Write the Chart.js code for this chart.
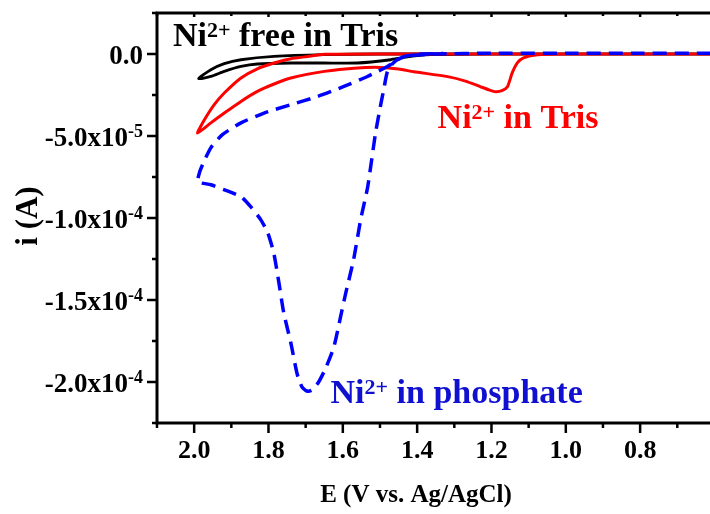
<!DOCTYPE html>
<html>
<head>
<meta charset="utf-8">
<script src="https://cdn.jsdelivr.net/npm/chart.js@4.4.1/dist/chart.umd.min.js"></script>
<style>
  html, body { margin: 0; padding: 0; background: #fff; }
  canvas { display: block; }
</style>
</head>
<body>
<canvas id="cv" width="710" height="514"></canvas>
<script>
// potentials (V vs. Ag/AgCl) and currents (units of 1e-5 A)
const phosE = [0.61, 0.8, 1.0, 1.2, 1.35, 1.42, 1.45, 1.466, 1.48, 1.49, 1.498, 1.512, 1.533, 1.552, 1.571,
  1.592, 1.606, 1.624, 1.645, 1.665, 1.684, 1.697, 1.71, 1.723, 1.74, 1.759, 1.772, 1.786, 1.802, 1.821,
  1.848, 1.874, 1.92, 1.955, 1.99, 1.985, 1.974, 1.955, 1.924, 1.874, 1.812, 1.74, 1.668, 1.597, 1.534,
  1.48, 1.435, 1.39, 1.33];
const phosI = [0.05, 0.05, 0.05, 0.05, 0.0, -0.1, -0.3, -0.59, -1.06, -2.18, -3.09, -4.82, -8.09, -10.1, -12.54,
  -14.56, -16.02, -17.85, -19.1, -20.0, -20.5, -20.55, -20.3, -19.5, -17.6, -15.78, -13.94, -12.12, -10.9, -10.1,
  -9.31, -8.7, -8.27, -7.97, -7.79, -7.18, -6.57, -5.71, -4.92, -4.2, -3.6, -3.09, -2.59, -1.98, -1.37,
  -0.76, -0.15, 0.0, 0.03];

const trisE = [0.61, 0.8, 1.0, 1.076, 1.114, 1.13, 1.144, 1.157, 1.172, 1.189, 1.205, 1.229, 1.27, 1.318, 1.409,
  1.45, 1.498, 1.561, 1.65, 1.74, 1.785, 1.83, 1.874, 1.919, 1.955, 1.991, 1.972, 1.946, 1.919, 1.874,
  1.83, 1.785, 1.74, 1.695, 1.65, 1.5, 1.3, 1.0, 0.8, 0.61];
const trisI = [0, 0, 0, -0.04, -0.23, -0.53, -1.14, -2.0, -2.24, -2.3, -2.2, -2.0, -1.65, -1.38, -1.08,
  -0.92, -0.82, -0.85, -1.06, -1.46, -1.83, -2.28, -2.89, -3.6, -4.2, -4.82, -4.0, -3.09, -2.38, -1.46,
  -0.9, -0.55, -0.29, -0.15, -0.02, 0, 0, 0, 0, 0];

const freeE = [0.61, 1.0, 1.2, 1.364, 1.435, 1.471, 1.561, 1.65, 1.74, 1.83, 1.874, 1.919, 1.955, 1.988,
  1.955, 1.919, 1.874, 1.785, 1.65, 1.5, 1.2, 0.61];
const freeI = [0, 0, 0, -0.04, -0.2, -0.35, -0.55, -0.55, -0.55, -0.61, -0.76, -1.06, -1.37, -1.5,
  -0.96, -0.59, -0.35, -0.15, -0.04, 0, 0, 0];

const xTickValues = [2.0, 1.8, 1.6, 1.4, 1.2, 1.0, 0.8];
const xTickLabels = ['2.0', '1.8', '1.6', '1.4', '1.2', '1.0', '0.8'];
const xMinorValues = [2.1, 1.9, 1.7, 1.5, 1.3, 1.1, 0.9, 0.7];
const yTickValues = [0, -5e-5, -1e-4, -1.5e-4, -2e-4];
const yTickMantissa = ['0.0', '-5.0x10', '-1.0x10', '-1.5x10', '-2.0x10'];
const yTickExp = ['', '-5', '-4', '-4', '-4'];
const yMinorValues = [2.5e-5, -2.5e-5, -7.5e-5, -1.25e-4, -1.75e-4, -2.25e-4];

const seriesNames = ['Ni2+ in phosphate', 'Ni2+ in Tris', 'Ni2+ free in Tris'];

const SERIF = '"Liberation Serif", "Times New Roman", serif';

function toPoints(es, is) {
  return es.map((e, k) => ({ x: e, y: is[k] * 1e-5 }));
}

// labels: [prefix, sup, rest, E, i, colour]
const curveLabels = [
  ['Ni', '2+', ' free in Tris', 2.057, 4.6e-6, '#000000'],
  ['Ni', '2+', ' in Tris', 1.345, -4.49e-5, '#ff0000'],
  ['Ni', '2+', ' in phosphate', 1.633, -2.126e-4, '#1010d0']
];

const framePlugin = {
  id: 'frame',
  afterDraw(chart) {
    const ctx = chart.ctx;
    const a = chart.chartArea;
    const xs = chart.scales.x;
    const ys = chart.scales.y;
    ctx.save();
    ctx.strokeStyle = '#000';
    ctx.fillStyle = '#000';
    ctx.lineCap = 'butt';

    // axes lines
    ctx.lineWidth = 3;
    ctx.beginPath();
    ctx.moveTo(a.left, a.top);
    ctx.lineTo(a.right, a.top);
    ctx.moveTo(a.left, a.top - 1.5);
    ctx.lineTo(a.left, a.bottom + 1.5);
    ctx.moveTo(a.left - 1.5, a.bottom);
    ctx.lineTo(a.right, a.bottom);
    ctx.stroke();

    // x ticks
    ctx.lineWidth = 2.5;
    ctx.beginPath();
    xTickValues.forEach(v => {
      const px = xs.getPixelForValue(v);
      ctx.moveTo(px, a.bottom); ctx.lineTo(px, a.bottom + 10);
      ctx.moveTo(px, a.top); ctx.lineTo(px, a.top + 4);
    });
    xMinorValues.forEach(v => {
      const px = xs.getPixelForValue(v);
      ctx.moveTo(px, a.bottom); ctx.lineTo(px, a.bottom + 5);
      ctx.moveTo(px, a.top); ctx.lineTo(px, a.top + 3);
    });
    // y ticks
    yTickValues.forEach(v => {
      const py = ys.getPixelForValue(v);
      ctx.moveTo(a.left, py); ctx.lineTo(a.left - 10, py);
    });
    yMinorValues.forEach(v => {
      const py = ys.getPixelForValue(v);
      ctx.moveTo(a.left, py); ctx.lineTo(a.left - 5, py);
    });
    ctx.stroke();

    // x tick labels
    ctx.font = 'bold 26px ' + SERIF;
    ctx.textAlign = 'center';
    ctx.textBaseline = 'alphabetic';
    xTickValues.forEach((v, k) => {
      ctx.fillText(xTickLabels[k], xs.getPixelForValue(v), a.bottom + 35);
    });

    // y tick labels with exponent
    const rx = a.left - 14;
    yTickValues.forEach((v, k) => {
      const py = ys.getPixelForValue(v);
      ctx.textAlign = 'right';
      let sw = 0;
      if (yTickExp[k]) {
        ctx.font = 'bold 18px ' + SERIF;
        sw = ctx.measureText(yTickExp[k]).width;
        ctx.fillText(yTickExp[k], rx, py + 1);
      }
      ctx.font = 'bold 27px ' + SERIF;
      ctx.fillText(yTickMantissa[k], rx - sw, py + 9.5);
    });

    // axis titles
    ctx.font = 'bold 25px ' + SERIF;
    ctx.textAlign = 'center';
    ctx.textBaseline = 'middle';
    ctx.fillText('E (V vs. Ag/AgCl)', 416, 496);
    ctx.save();
    ctx.translate(29, 216);
    ctx.rotate(-Math.PI / 2);
    ctx.font = 'bold 31px ' + SERIF;
    ctx.fillText('i (A)', 0, 0);
    ctx.restore();

    // curve labels
    ctx.textAlign = 'left';
    ctx.textBaseline = 'alphabetic';
    curveLabels.forEach(([pre, sup, rest, e, i, col]) => {
      let px = xs.getPixelForValue(e);
      const py = ys.getPixelForValue(i);
      ctx.fillStyle = col;
      ctx.font = 'bold 34px ' + SERIF;
      ctx.fillText(pre, px, py);
      px += ctx.measureText(pre).width;
      ctx.font = 'bold 22px ' + SERIF;
      ctx.fillText(sup, px, py - 9);
      px += ctx.measureText(sup).width;
      ctx.font = 'bold 34px ' + SERIF;
      ctx.fillText(rest, px, py);
    });
    ctx.restore();
  }
};

new Chart(document.getElementById('cv'), {
  type: 'scatter',
  data: {
    datasets: [
      {
        label: seriesNames[0],
        data: toPoints(phosE, phosI),
        showLine: true,
        borderColor: '#0000ff',
        borderWidth: 3.5,
        borderDash: [14, 8],
        pointRadius: 0,
        tension: 0.2,
        fill: false
      },
      {
        label: seriesNames[1],
        data: toPoints(trisE, trisI),
        showLine: true,
        borderColor: '#ff0000',
        borderWidth: 3,
        pointRadius: 0,
        tension: 0.2,
        fill: false
      },
      {
        label: seriesNames[2],
        data: toPoints(freeE, freeI),
        showLine: true,
        borderColor: '#000000',
        borderWidth: 2.8,
        pointRadius: 0,
        tension: 0.2,
        fill: false
      }
    ]
  },
  options: {
    responsive: false,
    animation: false,
    devicePixelRatio: 1,
    layout: { padding: { top: 13, right: 0, left: 0, bottom: 0 } },
    plugins: { legend: { display: false }, tooltip: { enabled: false } },
    scales: {
      x: {
        type: 'linear',
        reverse: true,
        min: 0.612,
        max: 2.1,
        grid: { display: false },
        border: { display: false },
        ticks: { display: false },
        afterFit: (scale) => { scale.height = 91; }
      },
      y: {
        type: 'linear',
        min: -2.25e-4,
        max: 2.5e-5,
        grid: { display: false },
        border: { display: false },
        ticks: { display: false },
        afterFit: (scale) => { scale.width = 157; }
      }
    }
  },
  plugins: [framePlugin]
});
</script>
</body>
</html>
